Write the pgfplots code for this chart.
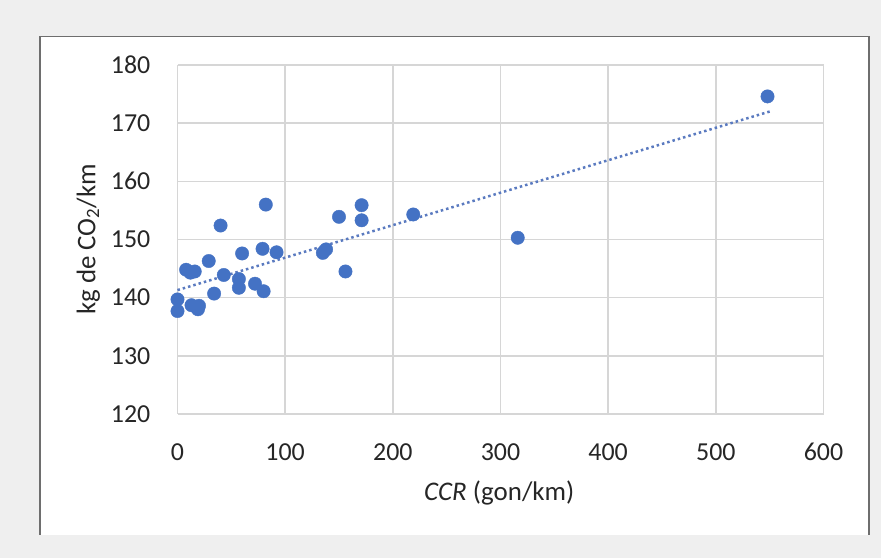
\documentclass[border=0pt]{standalone}
\usepackage{pgfplots}
\pgfplotsset{compat=1.18}
\usepackage{fontspec}
\setmainfont{Carlito}
\definecolor{bgc}{HTML}{EFEFEF}
\definecolor{gridc}{HTML}{D6D6D6}
\definecolor{ptc}{HTML}{4472C4}
\definecolor{trc}{HTML}{5A7AC0}
\definecolor{bordc}{HTML}{6E6E6E}
\begin{document}
\begin{tikzpicture}
\fill[bgc] (0,0) rectangle (881bp,558bp);
\fill[white] (40bp,23bp) rectangle (869bp,521.5bp);
\draw[bordc, line width=1.6bp] (40bp,23bp) -- (40bp,521.5bp) -- (869bp,521.5bp) -- (869bp,23bp);
\begin{axis}[
  at={(177.5bp,144bp)}, anchor=south west,
  width=646bp, height=349bp, scale only axis,
  xmin=0, xmax=600, ymin=120, ymax=180,
  xtick={0,100,...,600}, ytick={120,130,...,180},
  grid=major,
  major grid style={gridc, line width=1.6bp},
  axis line style={draw=none},
  major tick length=0pt,
  /pgf/number format/assume math mode=true,
  ticklabel style={font=\fontsize{26}{26}\selectfont, text=black!85, inner sep=0pt},
  yticklabel style={anchor=east, xshift=-27bp},
  xticklabel style={anchor=north, yshift=-29bp},
  xlabel={\textit{CCR} (gon/km)},
  ylabel={kg de CO\textsubscript{2}/km},
  label style={font=\fontsize{27}{27}\selectfont, text=black!85},
  xlabel style={at={(axis description cs:0.498,-0.226)}, anchor=center},
  ylabel style={at={(axis description cs:-0.138,0.5)}, anchor=center},
  clip=false,
]
\addplot[only marks, mark=*, mark size=6.7bp, mark options={fill=ptc, draw=ptc}] coordinates {
(0,139.7) (0,137.7) (8,144.8) (12,144.3) (16,144.5) (13,138.7) (18,138.3) (20,138.6) (19,138.0)
(29,146.3) (34,140.7) (40,152.4) (43,143.9) (57,143.2) (57,141.7) (60,147.6) (72,142.4)
(79,148.4) (80,141.1) (82,156.0) (92,147.8) (135,147.7) (138,148.3) (150,153.9) (156,144.5)
(171,155.9) (171,153.3) (219,154.3) (316,150.3) (548,174.6)
};
\addplot[trc, line width=2.5bp, dash pattern=on 2.5bp off 3bp] coordinates {(0,141.3) (550,172.0)};
\end{axis}
\end{tikzpicture}
\end{document}
